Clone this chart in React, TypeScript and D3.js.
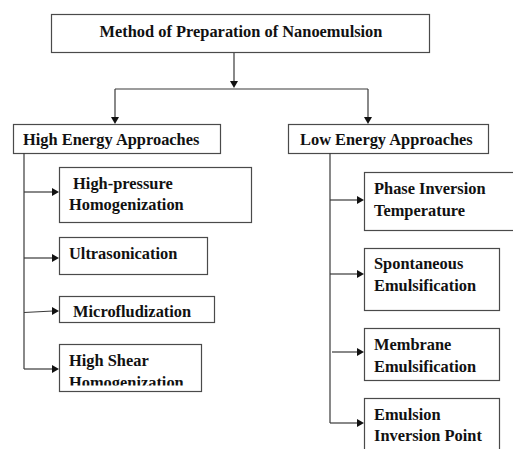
import React from "react";
import * as d3 from "d3";

const rootLabel = "Method of Preparation of Nanoemulsion";
const groupLabels = ["High Energy Approaches", "Low Energy Approaches"];
const highEnergy = [
  [" High-pressure", "Homogenization"],
  ["Ultrasonication"],
  [" Microfludization"],
  ["High Shear", "Homogenization"],
];
const lowEnergy = [
  ["Phase Inversion", "Temperature"],
  ["Spontaneous", "Emulsification"],
  ["Membrane", "Emulsification"],
  ["Emulsion", "Inversion Point"],
];

// layout (pixels)
const rootBox = { x: 51, y: 14, w: 378, h: 38 };
const groupBoxes = [
  { x: 13, y: 124, w: 207, h: 29, tx: 23 },
  { x: 288, y: 124, w: 200, h: 29, tx: 300 },
];
const leftBoxes = [
  { x: 59, y: 167, w: 192, h: 55, ty: [183, 204], tx: 69, by: 192 },
  { x: 59, y: 237, w: 148, h: 37, ty: [253], tx: 69, by: 258 },
  { x: 59, y: 296, w: 155, h: 26, ty: [311], tx: 69, by: 311, by0: 312.5 },
  { x: 59, y: 344, w: 142, h: 47, ty: [360, 382], tx: 69, by: 369, clip: 385.5 },
];
const rightBoxes = [
  { x: 364, y: 172, w: 160, h: 58, ty: [188, 210], tx: 374, by: 200 },
  { x: 364, y: 248, w: 135, h: 62, ty: [263, 285], tx: 374, by: 274 },
  { x: 364, y: 328, w: 135, h: 52, ty: [344, 366], tx: 374, by: 352, bx0: 332 },
  { x: 364, y: 398, w: 135, h: 70, ty: [414, 435], tx: 374, by: 423 },
];

const LINE = "#3a3a3a";
const BOX = "#4a4a4a";

function Arrow({ x, y, dir }: { x: number; y: number; dir: "down" | "right" }) {
  const path = d3.path();
  if (dir === "down") {
    path.moveTo(x, y);
    path.lineTo(x - 4, y - 7);
    path.lineTo(x + 4, y - 7);
  } else {
    path.moveTo(x, y);
    path.lineTo(x - 7, y - 4);
    path.lineTo(x - 7, y + 4);
  }
  path.closePath();
  return <path d={path.toString()} fill="#111" />;
}

function Box({ b }: { b: { x: number; y: number; w: number; h: number } }) {
  return (
    <rect x={b.x + 0.5} y={b.y + 0.5} width={b.w} height={b.h} fill="white" stroke={BOX} strokeWidth={1.2} />
  );
}

const txtStyle: React.CSSProperties = {
  fontFamily: "Liberation Serif",
  fontWeight: 700,
  fontSize: 16.4,
  fill: "#111",
  whiteSpace: "pre",
};

export default function App() {
  const leftTrunkX = 24;
  const rightTrunkX = 330;
  const line = d3.line<[number, number]>();

  return (
    <svg width={513} height={449} style={{ position: "absolute", left: 0, top: 0, background: "white" }}>
      <defs>
        <clipPath id="clipShear">
          <rect x={0} y={0} width={513} height={leftBoxes[3].clip} />
        </clipPath>
      </defs>
      {/* root */}
      <Box b={rootBox} />
      <text x={rootBox.x + rootBox.w / 2 + 1} y={31} dominantBaseline="central" textAnchor="middle" style={txtStyle}>
        {rootLabel}
      </text>
      {/* root connector */}
      <path d={line([[234, 53], [234, 83]])!} stroke={LINE} strokeWidth={1.2} fill="none" />
      <Arrow x={234} y={88} dir="down" />
      <path d={line([[115, 89], [368, 89]])!} stroke={LINE} strokeWidth={1.2} fill="none" />
      <path d={line([[115, 89], [115, 118]])!} stroke={LINE} strokeWidth={1.2} fill="none" />
      <path d={line([[368, 89], [368, 118]])!} stroke={LINE} strokeWidth={1.2} fill="none" />
      <Arrow x={115} y={124} dir="down" />
      <Arrow x={368} y={124} dir="down" />

      {/* groups */}
      {groupBoxes.map((g, i) => (
        <g key={i}>
          <Box b={g} />
          <text x={g.tx} y={g.y + g.h / 2 + 1} dominantBaseline="central" style={txtStyle}>
            {groupLabels[i]}
          </text>
        </g>
      ))}

      {/* trunks */}
      <path d={line([[leftTrunkX, 153], [leftTrunkX, leftBoxes[3].by]])!} stroke={LINE} strokeWidth={1.2} fill="none" />
      <path d={line([[rightTrunkX, 153], [rightTrunkX, rightBoxes[3].by]])!} stroke={LINE} strokeWidth={1.2} fill="none" />

      {/* left children */}
      {highEnergy.map((lines, i) => {
        const b = leftBoxes[i] as any;
        return (
          <g key={"l" + i}>
            <path
              d={line([[leftTrunkX, b.by0 ?? b.by], [b.x - 6, b.by]])!}
              stroke={LINE}
              strokeWidth={1.2}
              fill="none"
            />
            <Arrow x={b.x} y={b.by} dir="right" />
            <Box b={b} />
            <g clipPath={b.clip ? "url(#clipShear)" : undefined}>
              {lines.map((t, j) => (
                <text key={j} x={b.tx} y={b.ty[j]} dominantBaseline="central" style={txtStyle}>
                  {t}
                </text>
              ))}
            </g>
          </g>
        );
      })}

      {/* right children */}
      {lowEnergy.map((lines, i) => {
        const b = rightBoxes[i] as any;
        return (
          <g key={"r" + i}>
            <path
              d={line([[b.bx0 ?? rightTrunkX, b.by], [b.x - 6, b.by]])!}
              stroke={LINE}
              strokeWidth={1.2}
              fill="none"
            />
            <Arrow x={b.x} y={b.by} dir="right" />
            <Box b={b} />
            {lines.map((t, j) => (
              <text key={j} x={b.tx} y={b.ty[j]} dominantBaseline="central" style={txtStyle}>
                {t}
              </text>
            ))}
          </g>
        );
      })}
    </svg>
  );
}
